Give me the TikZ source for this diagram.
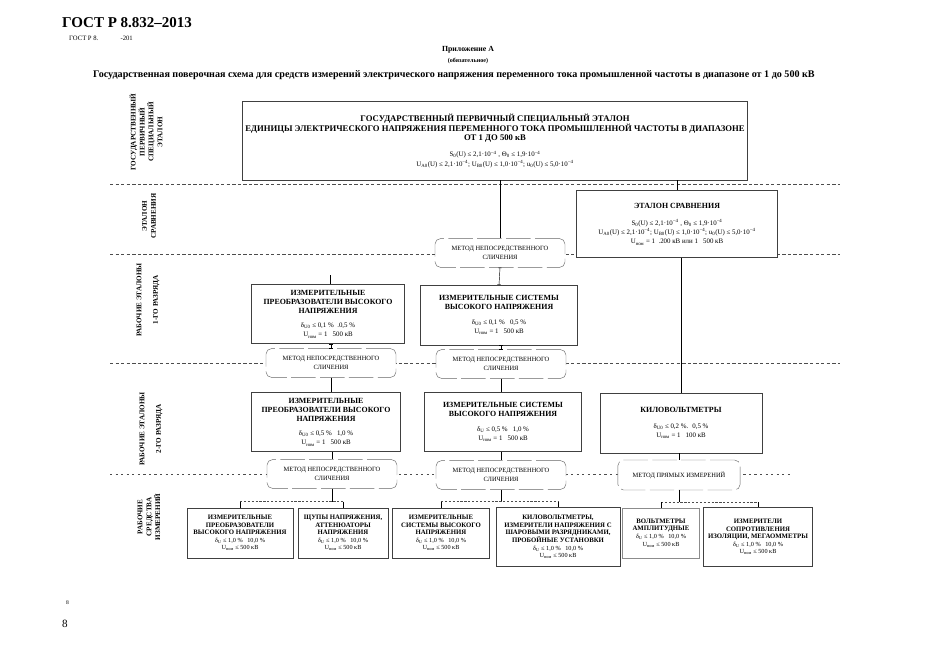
\documentclass[tikz,border=0pt]{standalone}
\usepackage{fontspec}
\setmainfont{Liberation Serif}
\usepackage{tikz}
\usetikzlibrary{
	arrows.meta,
	positioning,
	calc
}
\newcommand{\prmfont}{\fontsize{6.2}{7.2}\selectfont}
\newcommand{\smallprm}{\fontsize{5.6}{6.5}\selectfont}

\begin{document}
\begin{tikzpicture}[
    x=0.9pt, y=-0.9pt,
    box/.style={
        rectangle,
        draw=black!75,
        line width=0.5pt,
        inner sep=2pt,
        align=center,
        font=\fontsize{7.1}{8.4}\selectfont
    },
    low_box/.style={
        box,
        inner sep=1pt,
        font=\fontsize{6.1}{6.8}\selectfont
    },
    method/.style={
        rectangle,
        rounded corners=5pt,
        draw=black!60,
        dash pattern=on 22pt off 4pt,
        fill=white,
        minimum width=117pt,
        minimum height=26pt,
        inner sep=2pt,
        align=center,
        font=\fontsize{5.8}{7.6}\selectfont
    },
    level_label/.style={
        rotate=90,
        align=center,
        inner sep=1pt,
        font=\bfseries\fontsize{6.4}{8}\selectfont
    },
    sep_line/.style={
        draw=black!70,
        line width=0.4pt,
        dash pattern=on 3pt off 2pt
    },
    link/.style={
        draw=black,
        line width=0.4pt
    },
    short_link/.style={
        link,
        {Bar[width=3pt]}-{Bar[width=3pt]}
    },
    bus/.style={
        draw=black!70,
        line width=0.4pt,
        dash pattern=on 2pt off 1.5pt
    }
]

    \useasboundingbox (0,0) rectangle (935,661);

    % ====== шапка страницы ======
    \node[anchor=base west, inner sep=0pt, font=\bfseries\fontsize{13.5}{15}\selectfont] (gost) at (62,28) {ГОСТ Р 8.832–2013};
    \node[anchor=base west, inner sep=0pt, font=\fontsize{6}{7}\selectfont] (gost_old) at (69,41) {ГОСТ Р 8.\hspace{20pt}-201};
    \node[inner sep=0pt, font=\bfseries\fontsize{7}{8}\selectfont] (annex) at (468,50) {Приложение А};
    \node[inner sep=0pt, font=\bfseries\fontsize{5.5}{6}\selectfont] (annex_kind) at (468,61) {(обязательное)};
    \node[inner sep=0pt, font=\bfseries\fontsize{9.1}{10}\selectfont] (title) at (454,75) {Государственная поверочная схема для средств измерений электрического напряжения переменного тока промышленной частоты в диапазоне от 1 до 500 кВ};

    % ====== границы уровней схемы ======
    \draw[sep_line] (110,184) -- (840,184);
    \draw[sep_line] (110,254) -- (840,254);
    \draw[sep_line] (110,363) -- (840,363);
    \draw[sep_line, dash pattern=on 2pt off 3pt] (110,474) -- (790,474);

    % подписи уровней
    \node[level_label] (lab_state) at (146,132) {ГОСУДАРСТВЕННЫЙ\\ПЕРВИЧНЫЙ\\СПЕЦИАЛЬНЫЙ\\ЭТАЛОН};
    \node[level_label] (lab_compare) at (149,216) {ЭТАЛОН\\СРАВНЕНИЯ};
    \node[level_label] (lab_first) at (148,300) {РАБОЧИЕ ЭТАЛОНЫ\\[7pt]1-ГО РАЗРЯДА};
    \node[level_label] (lab_second) at (151,429) {РАБОЧИЕ ЭТАЛОНЫ\\[7pt]2-ГО РАЗРЯДА};
    \node[level_label] (lab_work) at (149,517) {РАБОЧИЕ\\СРЕДСТВА\\ИЗМЕРЕНИЙ};

    % ====== первичный эталон и эталон сравнения ======
    \node[box, double, double distance=1pt, minimum width=453pt, minimum height=70pt, font=\fontsize{7.8}{8.6}\selectfont] (primary) at (495,141) {\textbf{ГОСУДАРСТВЕННЫЙ ПЕРВИЧНЫЙ СПЕЦИАЛЬНЫЙ ЭТАЛОН}\\\textbf{ЕДИНИЦЫ ЭЛЕКТРИЧЕСКОГО НАПРЯЖЕНИЯ ПЕРЕМЕННОГО ТОКА ПРОМЫШЛЕННОЙ ЧАСТОТЫ В ДИАПАЗОНЕ}\\\textbf{ОТ 1 ДО 500 кВ}\\[6pt]{\prmfont S\textsubscript{0}(U) ≤ 2,1·10\textsuperscript{−4} , Θ\textsubscript{0} ≤ 1,9·10\textsuperscript{−4}}\\{\prmfont U\textsubscript{A0}(U) ≤ 2,1·10\textsuperscript{−4}; U\textsubscript{B0}(U) ≤ 1,0·10\textsuperscript{−4}; u\textsubscript{0}(U) ≤ 5,0·10\textsuperscript{−4}}};

    \node[box, fill=white, minimum width=181pt, minimum height=60pt] (compare) at (677,224) {\textbf{ЭТАЛОН СРАВНЕНИЯ}\\[7pt]{\prmfont S\textsubscript{0}(U) ≤ 2,1·10\textsuperscript{−4} , Θ\textsubscript{0} ≤ 1,9·10\textsuperscript{−4}}\\{\prmfont U\textsubscript{A0}(U) ≤ 2,1·10\textsuperscript{−4}; U\textsubscript{B0}(U) ≤ 1,0·10\textsuperscript{−4}; u\textsubscript{0}(U) ≤ 5,0·10\textsuperscript{−4}}\\{\prmfont U\textsubscript{ном} = 1 \ .200 кВ или 1 \ \ 500 кВ}};

    \node[method] (cmp_a) at (500,253) {МЕТОД НЕПОСРЕДСТВЕННОГО\\СЛИЧЕНИЯ};

    % ====== рабочие эталоны 1-го разряда ======
    \node[box, minimum width=138pt, minimum height=53pt] (conv_one) at (328,314) {\textbf{ИЗМЕРИТЕЛЬНЫЕ}\\\textbf{ПРЕОБРАЗОВАТЕЛИ ВЫСОКОГО}\\\textbf{НАПРЯЖЕНИЯ}\\[4pt]{\prmfont δ\textsubscript{U0} ≤ 0,1 \% \ .0,5 \%}\\{\prmfont U\textsubscript{ном} = 1 \ \ 500 кВ}};
    \node[box, minimum width=141pt, minimum height=54pt] (sys_one) at (499,315) {\textbf{ИЗМЕРИТЕЛЬНЫЕ СИСТЕМЫ}\\\textbf{ВЫСОКОГО НАПРЯЖЕНИЯ}\\[5pt]{\prmfont δ\textsubscript{U0} ≤ 0,1 \% \ \ 0,5 \%}\\{\prmfont U\textsubscript{ном} = 1 \ \ 500 кВ}};

    \node[method] (cmp_b) at (331,363) {МЕТОД НЕПОСРЕДСТВЕННОГО\\СЛИЧЕНИЯ};
    \node[method] (cmp_c) at (501,364) {МЕТОД НЕПОСРЕДСТВЕННОГО\\СЛИЧЕНИЯ};

    % ====== рабочие эталоны 2-го разряда ======
    \node[box, minimum width=134pt, minimum height=53pt] (conv_two) at (326,422) {\textbf{ИЗМЕРИТЕЛЬНЫЕ}\\\textbf{ПРЕОБРАЗОВАТЕЛИ ВЫСОКОГО}\\\textbf{НАПРЯЖЕНИЯ}\\[4pt]{\prmfont δ\textsubscript{U0} ≤ 0,5 \% \ \ 1,0 \%}\\{\prmfont U\textsubscript{ном} = 1 \ \ 500 кВ}};
    \node[box, minimum width=141pt, minimum height=53pt] (sys_two) at (503,422) {\textbf{ИЗМЕРИТЕЛЬНЫЕ СИСТЕМЫ}\\\textbf{ВЫСОКОГО НАПРЯЖЕНИЯ}\\[5pt]{\prmfont δ\textsubscript{U} ≤ 0,5 \% \ \ 1,0 \%}\\{\prmfont U\textsubscript{ном} = 1 \ \ 500 кВ}};
    \node[box, minimum width=146pt, minimum height=54pt] (kv_two) at (681,423) {\textbf{КИЛОВОЛЬТМЕТРЫ}\\[6pt]{\prmfont δ\textsubscript{U0} ≤ 0,2 \%. \ 0,5 \%}\\{\prmfont U\textsubscript{ном} = 1 \ \ 100 кВ}};

    \node[method] (cmp_d) at (332,474) {МЕТОД НЕПОСРЕДСТВЕННОГО\\СЛИЧЕНИЯ};
    \node[method] (cmp_e) at (501,475) {МЕТОД НЕПОСРЕДСТВЕННОГО\\СЛИЧЕНИЯ};
    \node[method, minimum width=110pt, minimum height=27pt] (direct) at (679,475) {МЕТОД ПРЯМЫХ ИЗМЕРЕНИЙ};

    % ====== рабочие средства измерений ======
    \node[low_box, minimum width=95pt, minimum height=45pt] (w_conv) at (240,533) {\textbf{ИЗМЕРИТЕЛЬНЫЕ}\\\textbf{ПРЕОБРАЗОВАТЕЛИ}\\\textbf{ВЫСОКОГО НАПРЯЖЕНИЯ}\\{\smallprm δ\textsubscript{U} ≤ 1,0 \% \ \ 10,0 \%}\\{\smallprm U\textsubscript{ном} ≤ 500 кВ}};
    \node[low_box, minimum width=81pt, minimum height=45pt] (w_probe) at (343,533) {\textbf{ЩУПЫ НАПРЯЖЕНИЯ,}\\\textbf{АТТЕНЮАТОРЫ}\\\textbf{НАПРЯЖЕНИЯ}\\{\smallprm δ\textsubscript{U} ≤ 1,0 \% \ \ 10,0 \%}\\{\smallprm U\textsubscript{ном} ≤ 500 кВ}};
    \node[low_box, minimum width=87pt, minimum height=45pt] (w_sys) at (441,533) {\textbf{ИЗМЕРИТЕЛЬНЫЕ}\\\textbf{СИСТЕМЫ ВЫСОКОГО}\\\textbf{НАПРЯЖЕНИЯ}\\{\smallprm δ\textsubscript{U} ≤ 1,0 \% \ \ 10,0 \%}\\{\smallprm U\textsubscript{ном} ≤ 500 кВ}};
    \node[low_box, minimum width=112pt, minimum height=53pt] (w_kv) at (558,537) {\textbf{КИЛОВОЛЬТМЕТРЫ,}\\\textbf{ИЗМЕРИТЕЛИ НАПРЯЖЕНИЯ С}\\\textbf{ШАРОВЫМИ РАЗРЯДНИКАМИ,}\\\textbf{ПРОБОЙНЫЕ УСТАНОВКИ}\\{\smallprm δ\textsubscript{U} ≤ 1,0 \% \ \ 10,0 \%}\\{\smallprm U\textsubscript{ном} ≤ 500 кВ}};
    \node[low_box, draw=black!45, minimum width=69pt, minimum height=45pt] (w_peak) at (661,533) {\textbf{ВОЛЬТМЕТРЫ}\\\textbf{АМПЛИТУДНЫЕ}\\{\smallprm δ\textsubscript{U} ≤ 1,0 \% \ \ 10,0 \%}\\{\smallprm U\textsubscript{ном} ≤ 500 кВ}};
    \node[low_box, minimum width=98pt, minimum height=53pt] (w_ins) at (758,537) {\textbf{ИЗМЕРИТЕЛИ}\\\textbf{СОПРОТИВЛЕНИЯ}\\\textbf{ИЗОЛЯЦИИ, МЕГАОММЕТРЫ}\\{\smallprm δ\textsubscript{U} ≤ 1,0 \% \ \ 10,0 \%}\\{\smallprm U\textsubscript{ном} ≤ 500 кВ}};

    % ====== связи ======
    \draw[link] (cmp_a.north |- primary.south) -- (cmp_a.north);
    \draw[link] (compare.north |- primary.south) -- (compare.north);
    \draw[short_link] (cmp_a.south) -- (sys_one.north);
    \coordinate (conv_one_top) at (330,275);
    \draw[link] (conv_one_top) -- (conv_one_top |- conv_one.north);
    \draw[short_link] (conv_one.south -| cmp_b.north) -- (cmp_b.north);
    \draw[short_link] (sys_one.south -| cmp_c.north) -- (cmp_c.north);
    \draw[link] (cmp_b.south) -- (cmp_b.south |- conv_two.north);
    \draw[link] (cmp_c.south) -- (cmp_c.south |- sys_two.north);
    \draw[link] (kv_two.north |- compare.south) -- (kv_two.north);
    \draw[link] (conv_two.south -| cmp_d.north) -- (cmp_d.north);
    \draw[link] (sys_two.south -| cmp_e.north) -- (cmp_e.north);
    \draw[link] (kv_two.south -| direct.north) -- (direct.north);

    % шины к рабочим средствам
    \draw[link] (cmp_d.south) -- ++(0,13) coordinate (bus_a);
    \draw[bus] (w_conv.north |- bus_a) -- (w_probe.north |- bus_a);
    \draw[link] (w_conv.north |- bus_a) -- (w_conv.north);
    \draw[link] (w_probe.north |- bus_a) -- (w_probe.north);

    \draw[link] (cmp_e.south) -- ++(0,12) coordinate (bus_b);
    \draw[bus] (w_sys.north |- bus_b) -- (w_kv.north |- bus_b);
    \draw[link] (w_sys.north |- bus_b) -- (w_sys.north);
    \draw[link] (w_kv.north |- bus_b) -- (w_kv.north);

    \draw[link] (direct.south) -- ++(0,12) coordinate (bus_c);
    \draw[bus] (w_peak.north |- bus_c) -- (w_ins.north |- bus_c);
    \draw[link] (w_peak.north |- bus_c) -- (w_peak.north);
    \draw[link] (w_ins.north |- bus_c) -- (w_ins.north);

    % ====== номер страницы ======
    \node[anchor=base west, inner sep=0pt, font=\fontsize{5}{6}\selectfont] (page_small) at (66,604) {8};
    \node[anchor=base west, inner sep=0pt, font=\fontsize{10}{11}\selectfont] (page) at (62,627) {8};

\end{tikzpicture}
\end{document}
